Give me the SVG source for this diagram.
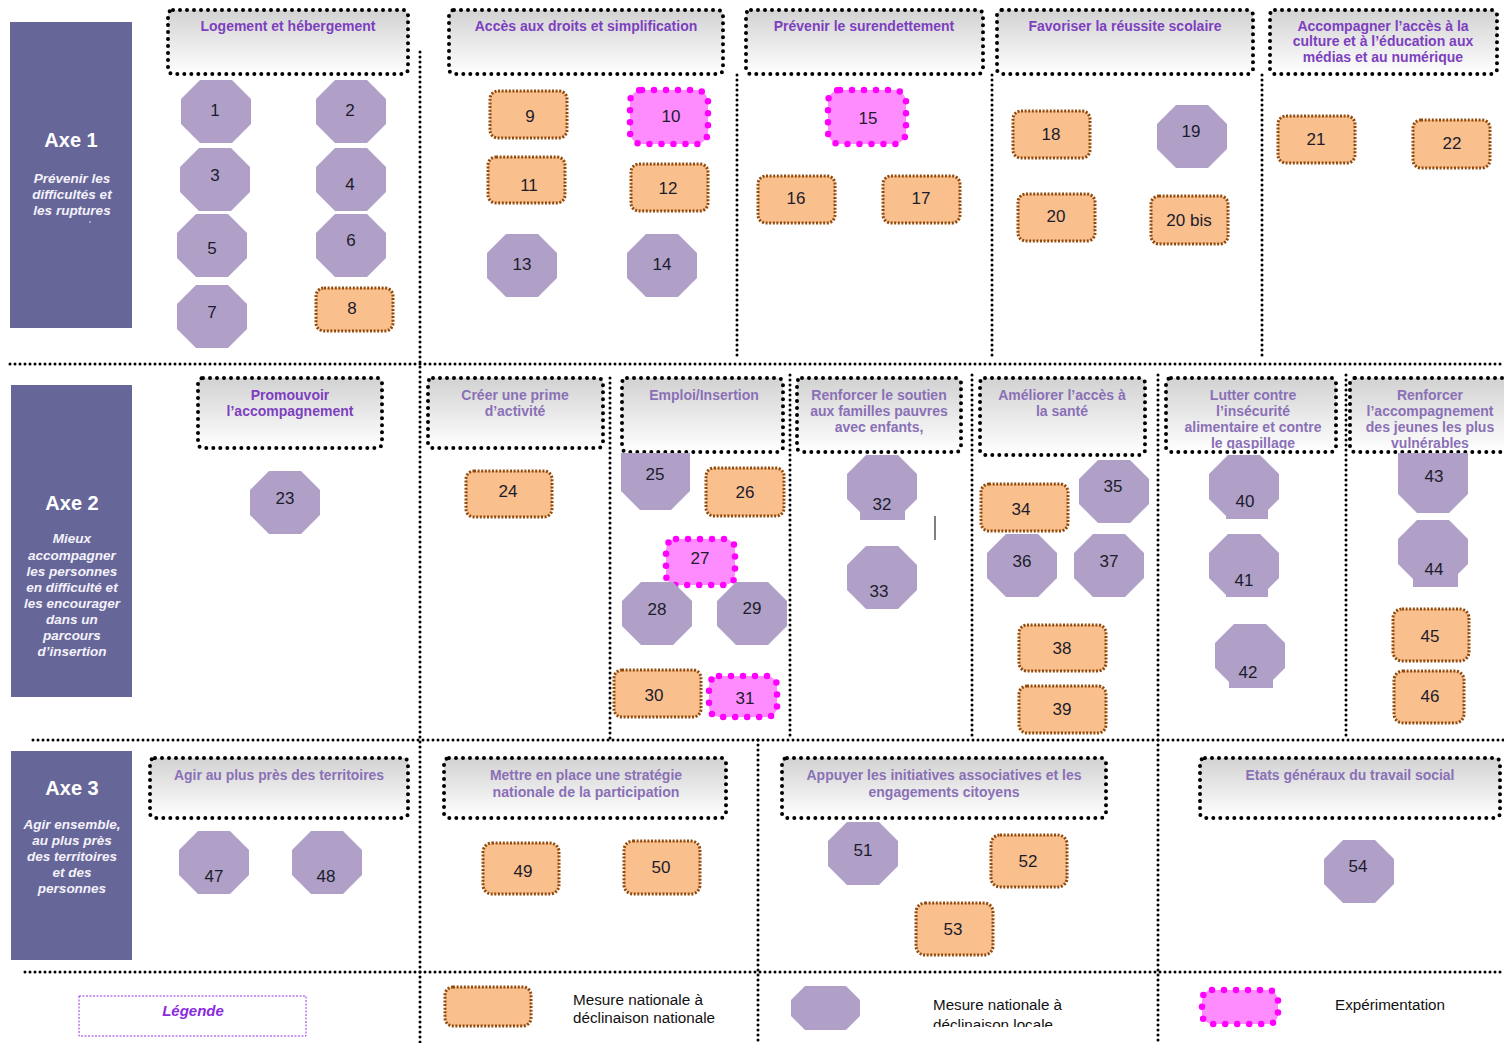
<svg xmlns="http://www.w3.org/2000/svg" xmlns:xlink="http://www.w3.org/1999/xlink" width="1504" height="1043" viewBox="0 0 1504 1043">
<style>
  .axe { fill: #676699; }
  .axeT { font-family: "Liberation Sans", Arial, sans-serif; font-weight: bold; font-size: 20px; fill: #ffffff; text-anchor: middle; }
  .axeS { font-family: "Liberation Sans", Arial, sans-serif; font-weight: bold; font-style: italic; font-size: 13.5px; fill: #f4f2fa; text-anchor: middle; }
  .hdr { fill: url(#hdrGrad); stroke: #000; stroke-width: 4; stroke-dasharray: 0 7; stroke-linecap: round; }
  .h1 { font-family: "Liberation Sans", Arial, sans-serif; font-weight: bold; font-size: 14px; fill: #7d3fbf; text-anchor: middle; }
  .h2 { font-family: "Liberation Sans", Arial, sans-serif; font-weight: bold; font-size: 14px; fill: #8a70b6; text-anchor: middle; }
  .sep { fill: none; stroke: #000; stroke-width: 3; stroke-dasharray: 0 5; stroke-linecap: round; }
  .oct { fill: #b0a0c8; }
  .nat { fill: #f9bf8d; stroke: #924a0c; stroke-width: 3; stroke-dasharray: 2 1.6; }
  .exp { fill: #ff8cff; stroke: #ff00ff; stroke-width: 6.5; stroke-dasharray: 0 12; stroke-linecap: round; }
  .num { font-family: "Liberation Sans", Arial, sans-serif; font-size: 17px; fill: #1c1c2c; text-anchor: middle; }
  .leg { font-family: "Liberation Sans", Arial, sans-serif; font-size: 14px; fill: #111; }
</style>
<defs>
  <linearGradient id="hdrGrad" x1="0" y1="0" x2="0" y2="1">
    <stop offset="0" stop-color="#d2d2d2"/>
    <stop offset="1" stop-color="#ffffff"/>
  </linearGradient>
  <polygon id="oct" points="19,0 51,0 70,19 70,44 51,63 19,63 0,44 0,19"/>
  <clipPath id="clipLutter"><rect x="1166" y="378" width="170" height="71"/></clipPath>
  <clipPath id="clipJeunes"><rect x="1350" y="378" width="160" height="71"/></clipPath>
  <clipPath id="clipLegLoc"><rect x="920" y="990" width="160" height="37"/></clipPath>
</defs>
<rect width="1504" height="1043" fill="#ffffff"/>

<!-- axis panels -->
<g id="axe1">
  <rect class="axe" x="10" y="22" width="122" height="306"/>
  <text class="axeT" x="71" y="147">Axe 1</text>
  <text class="axeS" x="72" y="183">Prévenir les</text>
  <text class="axeS" x="72" y="199">difficultés et</text>
  <text class="axeS" x="72" y="215">les ruptures</text>
  <circle cx="90" cy="222" r="0.8" fill="#f4f2fa"/>
</g>
<g id="axe2">
  <rect class="axe" x="11" y="385" width="121" height="312"/>
  <text class="axeT" x="72" y="510">Axe 2</text>
  <text class="axeS" x="72" y="543">Mieux</text>
  <text class="axeS" x="72" y="560">accompagner</text>
  <text class="axeS" x="72" y="576">les personnes</text>
  <text class="axeS" x="72" y="592">en difficulté et</text>
  <text class="axeS" x="72" y="608">les encourager</text>
  <text class="axeS" x="72" y="624">dans un</text>
  <text class="axeS" x="72" y="640">parcours</text>
  <text class="axeS" x="72" y="656">d’insertion</text>
</g>
<g id="axe3">
  <rect class="axe" x="11" y="751" width="121" height="209"/>
  <text class="axeT" x="72" y="795">Axe  3</text>
  <text class="axeS" x="72" y="829">Agir ensemble,</text>
  <text class="axeS" x="72" y="845">au plus près</text>
  <text class="axeS" x="72" y="861">des territoires</text>
  <text class="axeS" x="72" y="877">et des</text>
  <text class="axeS" x="72" y="893">personnes</text>
</g>

<!-- grid separators -->
<g id="connectors">
  <line class="sep" x1="10" y1="364" x2="1504" y2="364"/>
  <line class="sep" x1="33" y1="740" x2="1504" y2="740"/>
  <line class="sep" x1="25" y1="972" x2="1504" y2="972"/>
  <line class="sep" x1="420" y1="52" x2="420" y2="1043"/>
  <line class="sep" x1="737" y1="75" x2="737" y2="360"/>
  <line class="sep" x1="992" y1="75" x2="992" y2="360"/>
  <line class="sep" x1="1262" y1="75" x2="1262" y2="360"/>
  <line class="sep" x1="610" y1="378" x2="610" y2="740"/>
  <line class="sep" x1="790" y1="375" x2="790" y2="740"/>
  <line class="sep" x1="972" y1="375" x2="972" y2="740"/>
  <line class="sep" x1="1158" y1="375" x2="1158" y2="740"/>
  <line class="sep" x1="1346" y1="375" x2="1346" y2="740"/>
  <line class="sep" x1="758" y1="740" x2="758" y2="1043"/>
  <line class="sep" x1="1158" y1="740" x2="1158" y2="1043"/>
</g>

<!-- theme headers, axis 1 -->
<g id="h-logement">
  <rect class="hdr" x="168" y="10" width="240" height="64" rx="5"/>
  <text class="h1" x="288" y="31">Logement et hébergement</text>
</g>
<g id="h-droits">
  <rect class="hdr" x="449" y="10" width="274" height="64" rx="5"/>
  <text class="h1" x="586" y="31">Accès aux droits et simplification</text>
</g>
<g id="h-surendettement">
  <rect class="hdr" x="746" y="10" width="237" height="64" rx="5"/>
  <text class="h1" x="864" y="31">Prévenir le surendettement</text>
</g>
<g id="h-scolaire">
  <rect class="hdr" x="997" y="10" width="256" height="64" rx="5"/>
  <text class="h1" x="1125" y="31">Favoriser la réussite scolaire</text>
</g>
<g id="h-culture">
  <rect class="hdr" x="1270" y="10" width="227" height="64" rx="5"/>
  <text class="h1" x="1383" y="31">Accompagner l’accès à la</text>
  <text class="h1" x="1383" y="46">culture et à l’éducation aux</text>
  <text class="h1" x="1383" y="62">médias et au numérique</text>
</g>

<!-- theme headers, axis 2 -->
<g id="h-accompagnement">
  <rect class="hdr" x="198" y="378" width="184" height="70" rx="5"/>
  <text class="h1" x="290" y="400">Promouvoir</text>
  <text class="h1" x="290" y="416">l’accompagnement</text>
</g>
<g id="h-prime">
  <rect class="hdr" x="428" y="378" width="175" height="70" rx="5"/>
  <text class="h2" x="515" y="400">Créer une prime</text>
  <text class="h2" x="515" y="416">d’activité</text>
</g>
<g id="h-emploi">
  <rect class="hdr" x="622" y="378" width="161" height="74" rx="5"/>
  <text class="h2" x="704" y="400">Emploi/Insertion</text>
</g>
<g id="h-familles">
  <rect class="hdr" x="797" y="378" width="164" height="74" rx="5"/>
  <text class="h2" x="879" y="400">Renforcer le soutien</text>
  <text class="h2" x="879" y="416">aux familles pauvres</text>
  <text class="h2" x="879" y="432">avec enfants,</text>
</g>
<g id="h-sante">
  <rect class="hdr" x="980" y="378" width="165" height="77" rx="5"/>
  <text class="h2" x="1062" y="400">Améliorer l’accès à</text>
  <text class="h2" x="1062" y="416">la santé</text>
</g>
<g id="h-alimentaire">
  <rect class="hdr" x="1166" y="378" width="170" height="74" rx="5"/>
  <g clip-path="url(#clipLutter)">
    <text class="h2" x="1253" y="400">Lutter contre</text>
    <text class="h2" x="1253" y="416">l’insécurité</text>
    <text class="h2" x="1253" y="432">alimentaire et contre</text>
    <text class="h2" x="1253" y="448">le gaspillage</text>
  </g>
</g>
<g id="h-jeunes">
  <rect class="hdr" x="1350" y="378" width="162" height="74" rx="5"/>
  <g clip-path="url(#clipJeunes)">
    <text class="h2" x="1430" y="400">Renforcer</text>
    <text class="h2" x="1430" y="416">l’accompagnement</text>
    <text class="h2" x="1430" y="432">des jeunes les plus</text>
    <text class="h2" x="1430" y="448">vulnérables</text>
  </g>
</g>

<!-- theme headers, axis 3 -->
<g id="h-territoires">
  <rect class="hdr" x="150" y="758" width="258" height="60" rx="5"/>
  <text class="h2" x="279" y="780" textLength="210" lengthAdjust="spacingAndGlyphs">Agir au plus près des territoires</text>
</g>
<g id="h-participation">
  <rect class="hdr" x="444" y="758" width="282" height="60" rx="5"/>
  <text class="h2" x="586" y="780" textLength="192" lengthAdjust="spacingAndGlyphs">Mettre en place une stratégie</text>
  <text class="h2" x="586" y="797" textLength="187" lengthAdjust="spacingAndGlyphs">nationale de la participation</text>
</g>
<g id="h-associatif">
  <rect class="hdr" x="782" y="758" width="324" height="60" rx="5"/>
  <text class="h2" x="944" y="780" textLength="275" lengthAdjust="spacingAndGlyphs">Appuyer les initiatives associatives et les</text>
  <text class="h2" x="944" y="797" textLength="151" lengthAdjust="spacingAndGlyphs">engagements citoyens</text>
</g>
<g id="h-travail-social">
  <rect class="hdr" x="1200" y="758" width="300" height="60" rx="5"/>
  <text class="h2" x="1350" y="780" textLength="209" lengthAdjust="spacingAndGlyphs">Etats généraux du travail social</text>
</g>

<!-- measures, axis 1 -->
<g id="m1"><use href="#oct" class="oct" x="181" y="80"/><text class="num" x="215" y="116">1</text></g>
<g id="m2"><use href="#oct" class="oct" x="316" y="80"/><text class="num" x="350" y="116">2</text></g>
<g id="m3"><use href="#oct" class="oct" x="180" y="148"/><text class="num" x="215" y="181">3</text></g>
<g id="m4"><use href="#oct" class="oct" x="316" y="148"/><text class="num" x="350" y="190">4</text></g>
<g id="m5"><use href="#oct" class="oct" x="177" y="214"/><text class="num" x="212" y="254">5</text></g>
<g id="m6"><use href="#oct" class="oct" x="316" y="214"/><text class="num" x="351" y="246">6</text></g>
<g id="m7"><use href="#oct" class="oct" x="177" y="285"/><text class="num" x="212" y="318">7</text></g>
<g id="m8"><rect class="nat" x="316" y="288" width="77" height="43" rx="8"/><text class="num" x="352" y="314">8</text></g>
<g id="m9"><rect class="nat" x="490" y="91" width="77" height="47" rx="8"/><text class="num" x="530" y="122">9</text></g>
<g id="m10"><rect class="exp" x="630" y="90" width="78" height="54" rx="12"/><text class="num" x="671" y="122">10</text></g>
<g id="m11"><rect class="nat" x="488" y="157" width="77" height="46" rx="8"/><text class="num" x="529" y="191">11</text></g>
<g id="m12"><rect class="nat" x="631" y="164" width="77" height="47" rx="8"/><text class="num" x="668" y="194">12</text></g>
<g id="m13"><use href="#oct" class="oct" x="487" y="234"/><text class="num" x="522" y="270">13</text></g>
<g id="m14"><use href="#oct" class="oct" x="627" y="234"/><text class="num" x="662" y="270">14</text></g>
<g id="m15"><rect class="exp" x="828" y="90" width="78" height="54" rx="12"/><text class="num" x="868" y="124">15</text></g>
<g id="m16"><rect class="nat" x="758" y="176" width="77" height="47" rx="8"/><text class="num" x="796" y="204">16</text></g>
<g id="m17"><rect class="nat" x="883" y="176" width="77" height="47" rx="8"/><text class="num" x="921" y="204">17</text></g>
<g id="m18"><rect class="nat" x="1013" y="111" width="77" height="47" rx="8"/><text class="num" x="1051" y="140">18</text></g>
<g id="m19"><use href="#oct" class="oct" x="1157" y="105"/><text class="num" x="1191" y="137">19</text></g>
<g id="m20"><rect class="nat" x="1018" y="194" width="77" height="47" rx="8"/><text class="num" x="1056" y="222">20</text></g>
<g id="m20bis"><rect class="nat" x="1151" y="196" width="77" height="48" rx="8"/><text class="num" x="1189" y="226">20 bis</text></g>
<g id="m21"><rect class="nat" x="1278" y="116" width="77" height="47" rx="8"/><text class="num" x="1316" y="145">21</text></g>
<g id="m22"><rect class="nat" x="1413" y="120" width="77" height="48" rx="8"/><text class="num" x="1452" y="149">22</text></g>

<!-- measures, axis 2 -->
<g id="m23"><use href="#oct" class="oct" x="250" y="471"/><text class="num" x="285" y="504">23</text></g>
<g id="m24"><rect class="nat" x="466" y="471" width="86" height="46" rx="8"/><text class="num" x="508" y="497">24</text></g>
<g id="m25"><polygon class="oct" points="621,453 690,453 690,491 671,510 640,510 621,491"/><text class="num" x="655" y="480">25</text></g>
<g id="m26"><rect class="nat" x="706" y="468" width="78" height="48" rx="8"/><text class="num" x="745" y="498">26</text></g>
<g id="m27"><rect class="exp" x="666" y="539" width="69" height="46" rx="10"/><text class="num" x="700" y="564">27</text></g>
<g id="m28"><use href="#oct" class="oct" x="622" y="582"/><text class="num" x="657" y="615">28</text></g>
<g id="m29"><use href="#oct" class="oct" x="717" y="582"/><text class="num" x="752" y="614">29</text></g>
<g id="m30"><rect class="nat" x="614" y="670" width="87" height="47" rx="8"/><text class="num" x="654" y="701">30</text></g>
<g id="m31"><rect class="exp" x="709" y="676" width="68" height="41" rx="10"/><text class="num" x="745" y="704">31</text></g>
<g id="m32"><use href="#oct" class="oct" x="847" y="455"/><rect class="oct" x="860" y="505" width="45" height="15"/><text class="num" x="882" y="510">32</text></g>
<g id="m33"><use href="#oct" class="oct" x="847" y="546"/><text class="num" x="879" y="597">33</text></g>
<line x1="935" y1="516" x2="935" y2="540" stroke="#555" stroke-width="1.5"/>
<g id="m34"><rect class="nat" x="981" y="484" width="87" height="47" rx="8"/><text class="num" x="1021" y="515">34</text></g>
<g id="m35"><use href="#oct" class="oct" x="1079" y="460"/><text class="num" x="1113" y="492">35</text></g>
<g id="m36"><use href="#oct" class="oct" x="987" y="534"/><text class="num" x="1022" y="567">36</text></g>
<g id="m37"><use href="#oct" class="oct" x="1074" y="534"/><text class="num" x="1109" y="567">37</text></g>
<g id="m38"><rect class="nat" x="1019" y="625" width="87" height="46" rx="8"/><text class="num" x="1062" y="654">38</text></g>
<g id="m39"><rect class="nat" x="1019" y="686" width="87" height="47" rx="8"/><text class="num" x="1062" y="715">39</text></g>
<g id="m40"><use href="#oct" class="oct" x="1209" y="455"/><rect class="oct" x="1226" y="505" width="42" height="14"/><text class="num" x="1245" y="507">40</text></g>
<g id="m41"><use href="#oct" class="oct" x="1209" y="534"/><rect class="oct" x="1226" y="584" width="42" height="13"/><text class="num" x="1244" y="586">41</text></g>
<g id="m42"><use href="#oct" class="oct" x="1215" y="624"/><rect class="oct" x="1229" y="674" width="44" height="14"/><text class="num" x="1248" y="678">42</text></g>
<g id="m43"><polygon class="oct" points="1398,453 1468,453 1468,494 1449,513 1417,513 1398,494"/><text class="num" x="1434" y="482">43</text></g>
<g id="m44"><use href="#oct" class="oct" x="1398" y="520"/><rect class="oct" x="1413" y="572" width="45" height="15"/><text class="num" x="1434" y="575">44</text></g>
<g id="m45"><rect class="nat" x="1393" y="609" width="76" height="52" rx="9"/><text class="num" x="1430" y="642">45</text></g>
<g id="m46"><rect class="nat" x="1394" y="671" width="70" height="52" rx="9"/><text class="num" x="1430" y="702">46</text></g>

<!-- measures, axis 3 -->
<g id="m47"><use href="#oct" class="oct" x="179" y="831"/><text class="num" x="214" y="882">47</text></g>
<g id="m48"><use href="#oct" class="oct" x="292" y="831"/><text class="num" x="326" y="882">48</text></g>
<g id="m49"><rect class="nat" x="483" y="843" width="76" height="51" rx="9"/><text class="num" x="523" y="877">49</text></g>
<g id="m50"><rect class="nat" x="624" y="841" width="76" height="53" rx="9"/><text class="num" x="661" y="873">50</text></g>
<g id="m51"><use href="#oct" class="oct" x="828" y="822"/><text class="num" x="863" y="856">51</text></g>
<g id="m52"><rect class="nat" x="991" y="835" width="76" height="52" rx="9"/><text class="num" x="1028" y="867">52</text></g>
<g id="m53"><rect class="nat" x="916" y="903" width="77" height="52" rx="9"/><text class="num" x="953" y="935">53</text></g>
<g id="m54"><use href="#oct" class="oct" x="1324" y="840"/><text class="num" x="1358" y="872">54</text></g>

<!-- legend -->
<g id="legende">
  <rect x="79" y="996" width="227" height="40" fill="none" stroke="#9933ee" stroke-width="1" stroke-dasharray="2 1.5"/>
  <text x="193" y="1016" text-anchor="middle" font-family="Liberation Sans, Arial, sans-serif" font-size="15" font-weight="bold" font-style="italic" fill="#8a2be2">Légende</text>
</g>
<g id="leg-nationale">
  <rect class="nat" x="445" y="987" width="86" height="39" rx="8"/>
  <text class="leg" x="573" y="1005" textLength="130" lengthAdjust="spacingAndGlyphs">Mesure nationale à</text>
  <text class="leg" x="573" y="1023" textLength="142" lengthAdjust="spacingAndGlyphs">déclinaison nationale</text>
</g>
<g id="leg-locale">
  <polygon class="oct" points="805,986 846,986 860,1000 860,1016 846,1030 805,1030 791,1016 791,1000"/>
  <g clip-path="url(#clipLegLoc)">
    <text class="leg" x="933" y="1010" textLength="129" lengthAdjust="spacingAndGlyphs">Mesure nationale à</text>
    <text class="leg" x="933" y="1030" textLength="120" lengthAdjust="spacingAndGlyphs">déclinaison locale</text>
  </g>
</g>
<g id="leg-experimentation">
  <rect class="exp" x="1202" y="990" width="76" height="34" rx="10"/>
  <text class="leg" x="1335" y="1010" textLength="110" lengthAdjust="spacingAndGlyphs">Expérimentation</text>
</g>
</svg>
